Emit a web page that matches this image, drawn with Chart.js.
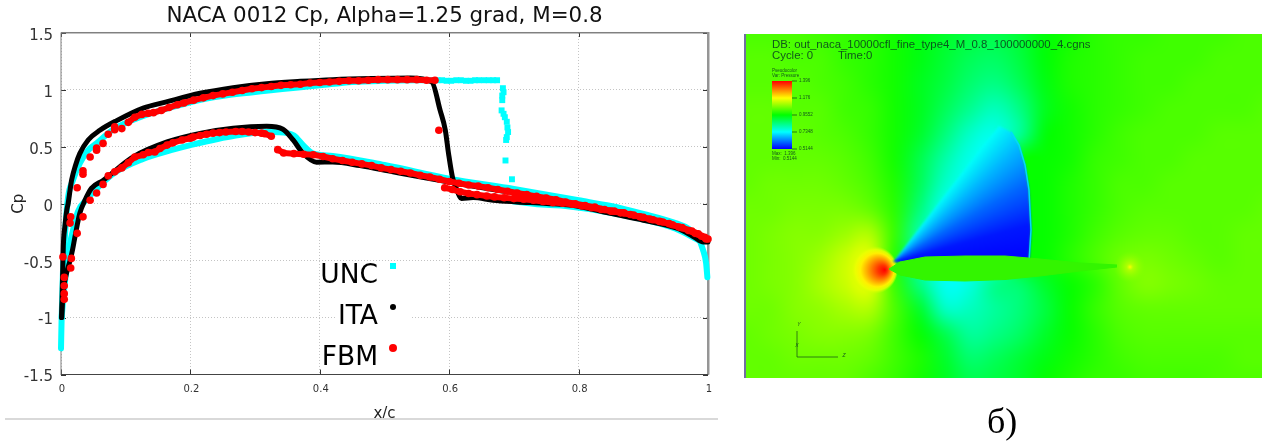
<!DOCTYPE html>
<html><head><meta charset="utf-8">
<script src="https://cdn.jsdelivr.net/npm/chart.js@4"></script>
<style>html,body{margin:0;padding:0;background:#fff;width:1264px;height:445px;overflow:hidden}
canvas{position:absolute;top:0}
#c1{left:0}#c2{left:744px}</style></head>
<body>
<canvas id="c1" width="725" height="445"></canvas>
<canvas id="c2" width="520" height="445"></canvas>
<script>
// ---------- left chart: pressure coefficient ----------
const titleText = "NACA 0012 Cp, Alpha=1.25 grad, M=0.8";
const xLabel = "x/c", yLabel = "Cp";
const seriesNames = ["UNC","ITA","FBM"];
const seriesColors = ["#00ffff","#000000","#ff0000"];

const uncUpperX = [0,0.001,0.002,0.003,0.005,0.007,0.011,0.018,0.029,0.042,0.055,0.08,0.122,0.173,0.225,0.297,0.4,0.45,0.5,0.575];
const uncUpperY = [-1.27,-1.0,-0.8,-0.6,-0.4,-0.2,0.06,0.2,0.355,0.47,0.53,0.65,0.76,0.85,0.925,0.98,1.04,1.07,1.08,1.085];
const uncLowerX = [0.001,0.004,0.009,0.014,0.02,0.026,0.04,0.06,0.085,0.125,0.17,0.2,0.27,0.32,0.35,0.36,0.375,0.39,0.42,0.5,0.6,0.7,0.8,0.85,0.9,0.95,0.97,0.985,0.992,0.997,0.999];
const uncLowerY = [-1.0,-0.8,-0.55,-0.35,-0.2,-0.07,0.04,0.16,0.28,0.39,0.47,0.515,0.6,0.63,0.62,0.6,0.51,0.44,0.42,0.34,0.22,0.13,0.03,-0.02,-0.09,-0.17,-0.22,-0.3,-0.4,-0.52,-0.645];
const uncAftLowerX = [0.7,0.75,0.78,0.85,0.95,0.985];
const uncAftLowerY = [0.02,-0.01,-0.02,-0.08,-0.22,-0.32];
const uncShockX = [0.582,0.589,0.596,0.603,0.611,0.618,0.626,0.633,0.64,0.646,0.654,0.661,0.668,0.674,0.683,0.684,0.682,0.682,0.681,0.684,0.686,0.689,0.69,0.691,0.689,0.688,0.687,0.697];
const uncShockY = [1.085,1.085,1.08,1.08,1.085,1.085,1.08,1.08,1.085,1.085,1.085,1.085,1.085,1.085,1.015,0.98,0.95,0.91,0.82,0.79,0.76,0.72,0.67,0.63,0.585,0.56,0.38,0.215];

const itaUpperX = [0.001,0.002,0.0036,0.006,0.0088,0.011,0.014,0.0165,0.022,0.029,0.042,0.06,0.086,0.127,0.163,0.215,0.266,0.318,0.37,0.42,0.48,0.54,0.573,0.586,0.594,0.599,0.605,0.611,0.619,0.637,0.668,0.705,0.751,0.797,0.849,0.9,0.952,0.977,0.993,1];
const itaUpperY = [-1.0,-0.75,-0.37,-0.2,-0.06,0,0.12,0.21,0.33,0.44,0.56,0.645,0.73,0.84,0.895,0.97,1.02,1.055,1.075,1.09,1.1,1.105,1.07,0.82,0.646,0.44,0.235,0.135,0.047,0.055,0.03,0.016,0.003,-0.02,-0.085,-0.145,-0.215,-0.287,-0.336,-0.335];
const itaLowerX = [0.001,0.003,0.009,0.014,0.018,0.0216,0.029,0.037,0.047,0.065,0.111,0.164,0.215,0.266,0.318,0.343,0.359,0.374,0.395,0.42,0.462,0.513,0.565,0.6,0.668,0.72,0.771,0.822,0.875,0.926,0.977,0.995];
const itaLowerY = [-1.0,-0.8,-0.6,-0.5,-0.4,-0.29,-0.085,0.03,0.135,0.205,0.41,0.543,0.618,0.663,0.68,0.655,0.558,0.443,0.365,0.367,0.335,0.28,0.225,0.19,0.125,0.08,0.02,-0.04,-0.095,-0.17,-0.25,-0.32];

const fbmNoseX = [0.003,0.005,0.005,0.005,0.005,0.015,0.014,0.025,0.034,0.034,0.045,0.055,0.055,0.065,0.073,0.083,0.083,0.094,0.016,0.015,0.025,0.034,0.045,0.055,0.065,0.073,0.584];
const fbmNoseY = [-0.467,-0.647,-0.72,-0.79,-0.84,-0.115,-0.17,0.14,0.29,0.26,0.41,0.47,0.49,0.53,0.61,0.675,0.65,0.66,-0.48,-0.565,-0.26,-0.115,0.03,0.095,0.17,0.245,0.646];
const fbmUpperX = [0.104,0.114,0.125,0.135,0.143,0.155,0.167,0.18,0.19,0.205,0.22,0.235,0.25,0.265,0.28,0.295,0.31,0.325,0.34,0.355,0.37,0.385,0.4,0.415,0.43,0.445,0.46,0.475,0.49,0.505,0.52,0.535,0.55,0.565,0.578];
const fbmUpperY = [0.715,0.76,0.785,0.795,0.8,0.82,0.845,0.87,0.885,0.91,0.93,0.95,0.965,0.98,0.995,1.01,1.02,1.03,1.04,1.045,1.05,1.06,1.065,1.07,1.075,1.08,1.08,1.085,1.09,1.09,1.09,1.09,1.09,1.085,1.085];
const fbmLowerX = [0.083,0.094,0.104,0.114,0.127,0.135,0.145,0.153,0.164,0.173,0.187,0.2,0.204,0.215,0.225,0.235,0.245,0.255,0.27,0.28,0.29,0.3,0.31,0.315,0.325];
const fbmLowerY = [0.28,0.315,0.36,0.41,0.43,0.45,0.455,0.485,0.515,0.535,0.56,0.575,0.585,0.6,0.61,0.62,0.625,0.63,0.635,0.635,0.63,0.625,0.62,0.615,0.593];
const fbmAftAX = [0.335,0.344,0.36,0.375,0.39,0.405,0.42,0.435,0.45,0.465,0.48,0.495,0.51,0.525,0.54,0.555,0.57,0.585,0.6,0.615,0.63,0.645,0.66,0.675,0.69,0.705,0.72,0.735,0.75,0.765,0.78,0.795,0.81,0.825,0.84,0.855,0.87,0.885,0.9,0.915,0.93,0.945,0.96,0.975,0.985,0.995,1];
const fbmAftAY = [0.475,0.446,0.44,0.435,0.43,0.415,0.395,0.38,0.365,0.35,0.335,0.315,0.3,0.285,0.27,0.25,0.235,0.215,0.195,0.18,0.165,0.155,0.14,0.125,0.11,0.095,0.08,0.065,0.05,0.035,0.015,0,-0.015,-0.03,-0.05,-0.065,-0.08,-0.1,-0.12,-0.14,-0.16,-0.185,-0.21,-0.24,-0.265,-0.295,-0.31];
const fbmAftBX = [0.593,0.605,0.617,0.63,0.643,0.658,0.67,0.685,0.7,0.715,0.73,0.745,0.76,0.775,0.79,0.805,0.82,0.835,0.85,0.865,0.88,0.895,0.91,0.925,0.94,0.955,0.97,0.98,0.99,0.997];
const fbmAftBY = [0.14,0.125,0.105,0.09,0.08,0.068,0.06,0.052,0.045,0.04,0.03,0.02,0.01,0.005,-0.005,-0.02,-0.035,-0.05,-0.065,-0.08,-0.095,-0.115,-0.135,-0.155,-0.175,-0.205,-0.235,-0.26,-0.285,-0.31];

const xyPairs = (xs, ys) => xs.map((x, i) => ({x, y: ys[i]}));
const lineSet = (label, xs, ys, color, w) => ({label, data: xyPairs(xs, ys), showLine: true, borderColor: color, borderWidth: w, pointRadius: 0, cubicInterpolationMode: 'monotone', clip: false, borderCapStyle: 'round', borderJoinStyle: 'round'});
const dotSet = (label, xs, ys, color, style, r) => ({label, data: xyPairs(xs, ys), showLine: false, backgroundColor: color, borderColor: color, borderWidth: 0, pointStyle: style, pointRadius: r, clip: false});
const bandSet = (label, xs, ys, color, r) => ({label, data: xyPairs(xs, ys), showLine: true, borderColor: color, borderWidth: 6, backgroundColor: color, pointBorderWidth: 0, pointStyle: 'circle', pointRadius: r, tension: 0, clip: false, borderCapStyle: 'round', borderJoinStyle: 'round'});

const font = "'DejaVu Sans'";
const frame = {
  id: 'frame',
  beforeDatasetsDraw(ch) {
    const {ctx, chartArea: a, scales: {x, y}} = ch;
    ctx.save();
    ctx.strokeStyle = '#333'; ctx.lineWidth = 1;
    ctx.beginPath();
    [0,0.2,0.4,0.6,0.8,1].forEach(v => { const p = Math.round(x.getPixelForValue(v)) + .5;
      ctx.moveTo(p, a.top); ctx.lineTo(p, a.top + 4); ctx.moveTo(p, a.bottom); ctx.lineTo(p, a.bottom - 5); });
    [-1.5,-1,-0.5,0,0.5,1,1.5].forEach(v => { const p = Math.round(y.getPixelForValue(v)) + .5;
      ctx.moveTo(a.left, p); ctx.lineTo(a.left + 5, p); ctx.moveTo(a.right - 5, p); ctx.lineTo(a.right, p); });
    ctx.stroke();
    ctx.fillStyle = '#fff'; ctx.fillRect(337, 300, 73, 30);
    ctx.fillStyle = '#808080';
    ctx.fillRect(a.left - .5, a.top - .5, 1, a.bottom - a.top + 1);
    ctx.fillRect(a.left, a.top - 1, a.right - a.left, 1.5);
    ctx.fillStyle = '#959595'; ctx.fillRect(a.right - 1, a.top - 1, 2.5, a.bottom - a.top + 1);
    ctx.fillStyle = '#444'; ctx.fillRect(a.left, a.bottom - .5, a.right - a.left, 1);
    ctx.restore();
  },
  afterDraw(ch) {
    const {ctx} = ch;
    ctx.save();
    ctx.fillStyle = '#d9d9d9'; ctx.fillRect(5, 418, 713, 2);
    const rows = [[276,266],[317,307],[358,348]];
    ctx.font = "26.5px " + font; ctx.textAlign = 'right'; ctx.textBaseline = 'middle'; ctx.fillStyle = '#000';
    seriesNames.forEach((n, i) => ctx.fillText(n, 378, rows[i][0]));
    ctx.fillStyle = seriesColors[0]; ctx.fillRect(390, rows[0][1] - 3, 6, 6);
    ctx.fillStyle = seriesColors[1]; ctx.beginPath(); ctx.arc(393, rows[1][1], 3, 0, 7); ctx.fill();
    ctx.fillStyle = seriesColors[2]; ctx.beginPath(); ctx.arc(393, rows[2][1], 4, 0, 7); ctx.fill();
    ctx.restore();
  }
};

new Chart(document.getElementById('c1'), {
  type: 'scatter',
  data: { datasets: [
    dotSet(seriesNames[2], fbmNoseX, fbmNoseY, seriesColors[2], 'circle', 3.8),
    bandSet(seriesNames[2], fbmUpperX, fbmUpperY, seriesColors[2], 3.8),
    bandSet(seriesNames[2], fbmLowerX, fbmLowerY, seriesColors[2], 3.8),
    bandSet(seriesNames[2], fbmAftAX, fbmAftAY, seriesColors[2], 3.8),
    bandSet(seriesNames[2], fbmAftBX, fbmAftBY, seriesColors[2], 3.8),
    lineSet(seriesNames[1], itaUpperX, itaUpperY, seriesColors[1], 5),
    lineSet(seriesNames[1], itaLowerX, itaLowerY, seriesColors[1], 5),
    lineSet(seriesNames[0], uncUpperX, uncUpperY, seriesColors[0], 6),
    lineSet(seriesNames[0], uncLowerX, uncLowerY, seriesColors[0], 6),
    lineSet(seriesNames[0], uncAftLowerX, uncAftLowerY, seriesColors[0], 6),
    dotSet(seriesNames[0], uncShockX, uncShockY, seriesColors[0], 'rect', 4.2)
  ]},
  options: {
    responsive: false, animation: false, events: [],
    layout: { padding: { left: 0, right: 17, top: 0, bottom: 22 } },
    plugins: {
      legend: { display: false }, tooltip: { enabled: false },
      title: { display: true, fullSize: false, text: titleText, color: '#111', font: { family: font, size: 21.4, weight: 'normal', lineHeight: 1.2 }, padding: { top: 4, bottom: 3.3 } }
    },
    scales: {
      x: { type: 'linear', min: 0, max: 1,
        afterFit(s) { s.height = 48.5; },
        grid: { color: '#c4c4c4', lineWidth: 1, drawTicks: false },
        border: { display: false, dash: [1, 2] },
        ticks: { stepSize: 0.2, maxRotation: 0, padding: 9, labelOffset: 1, color: '#333', font: { family: font, size: 10 }, callback: v => String(+v.toFixed(1)) },
        title: { display: true, text: xLabel, color: '#222', font: { family: font, size: 15 }, padding: 0 } },
      y: { type: 'linear', min: -1.5, max: 1.5,
        afterFit(s) { s.width = 61; },
        grid: { color: '#c4c4c4', lineWidth: 1, drawTicks: false },
        border: { display: false, dash: [1, 2] },
        ticks: { stepSize: 0.5, padding: 8, labelOffset: 3, color: '#333', font: { family: font, size: 15 }, callback: v => String(+v.toFixed(1)) },
        title: { display: true, text: yLabel, color: '#222', font: { family: font, size: 15 }, padding: { top: 10, bottom: 0 } } }
    }
  },
  plugins: [frame]
});

// ---------- right chart: pressure field ----------
const dbLine = "DB: out_naca_10000cfl_fine_type4_M_0.8_100000000_4.cgns";
const cycleLabel = "Cycle: 0", timeLabel = "Time:0";
const barHead = ["Pseudocolor", "Var: Pressure"];
const barTicks = ["1.396", "1.176", "0.9552", "0.7348", "0.5144"];
const barFoot = ["Max:  1.396", "Min:  0.5144"];
const panelCaption = "б)";

const fieldZ = [745,770,794,819,844,868,893,918,942,967,992,1016,1041,1066,1090,1115,1140,1164,1189,1213,1238,1262];
const fieldY = [34,59,83,108,132,157,181,206,231,255,280,304,329,353,378];
const pressureRows = [
 [102,102,102,101,100,99,97,94,92,90,89,91,95,97,99,100,100,101,101,101,102,102],
 [103,103,102,102,100,99,97,94,91,88,87,90,95,98,99,100,101,101,101,102,102,102],
 [103,103,103,102,101,99,97,93,90,86,84,88,94,98,99,100,101,101,102,102,102,102],
 [104,104,103,103,101,100,97,93,88,83,79,84,93,97,99,100,101,102,102,102,102,103],
 [104,104,104,103,102,100,97,92,85,78,75,82,95,97,99,101,102,102,102,103,103,103],
 [104,104,104,104,103,101,97,89,81,75,74,96,96,97,100,101,102,102,103,103,103,103],
 [104,105,105,105,104,102,98,88,78,74,74,96,96,98,100,102,102,103,103,103,103,103],
 [105,105,106,106,106,104,99,85,74,74,74,96,96,98,100,102,103,103,103,103,103,104],
 [105,106,107,107,109,111,100,80,74,74,74,96,96,98,101,103,104,104,103,103,104,104],
 [105,106,107,109,113,116,98,80,74,74,74,96,96,99,102,105,106,105,104,103,104,104],
 [105,106,107,110,113,116,100,84,74,76,84,86,92,96,99,104,107,106,105,104,104,104],
 [105,105,107,108,110,111,102,92,78,79,82,85,90,96,100,103,104,104,104,104,104,104],
 [104,105,106,107,107,106,101,96,89,82,84,87,92,96,99,102,103,103,103,103,103,103],
 [104,104,105,105,105,104,101,98,92,86,88,91,94,97,99,101,102,102,102,102,103,103],
 [104,104,104,104,104,102,100,97,93,89,90,92,96,98,100,100,101,101,101,102,102,102]
];
const fanAngles = [90,60,52,42,30,15,0];
const fanPressures = [96,78,74,67,60,53,51];
const pocketZ = [893,1029,1031,1029,1025,1019,1011,999,985];
const pocketY = [262,262,230,190,165,145,132,126,143];
const airfoilZ = [889,900,925,965,1005,1040,1080,1117];
const airfoilUpper = [269,262,257,256,256,259,263,265];
const airfoilLower = [269,275,280,281,279.5,276,271,267];
const colorStops = [[51,0,0,255],[73.5,0,255,255],[95.5,0,255,0],[117.6,255,255,0],[139.6,255,0,0]];

function pressureColor(p, alpha) {
  let i = 0;
  while (i < colorStops.length - 2 && p > colorStops[i + 1][0]) i++;
  const a = colorStops[i], b = colorStops[i + 1];
  const t = Math.min(1, Math.max(0, (p - a[0]) / (b[0] - a[0])));
  const c = [1, 2, 3].map(k => Math.round(a[k] + (b[k] - a[k]) * t));
  return `rgba(${c[0]},${c[1]},${c[2]},${alpha === undefined ? 1 : alpha})`;
}

const fieldPainter = {
  id: 'fieldPainter',
  beforeDatasetsDraw(ch) {
    const {ctx, chartArea: a, scales: {x, y}} = ch;
    const off = document.createElement('canvas');
    off.width = fieldZ.length; off.height = fieldY.length;
    const oc = off.getContext('2d');
    pressureRows.forEach((row, j) => row.forEach((p, i) => { oc.fillStyle = pressureColor(p); oc.fillRect(i, j, 1, 1); }));
    const cw = x.getPixelForValue(fieldZ[1]) - x.getPixelForValue(fieldZ[0]);
    const chh = y.getPixelForValue(fieldY[1]) - y.getPixelForValue(fieldY[0]);
    ctx.save();
    ctx.beginPath(); ctx.rect(a.left, a.top, a.right - a.left, a.bottom - a.top); ctx.clip();
    ctx.imageSmoothingEnabled = true;
    ctx.imageSmoothingQuality = 'high';
    ctx.drawImage(off, a.left - cw / 2, a.top - chh / 2, cw * fieldZ.length, chh * fieldY.length);

    // wake spot
    const wx = x.getPixelForValue(1130), wy = y.getPixelForValue(267);
    let g = ctx.createRadialGradient(wx, wy, 0, wx, wy, 16);
    g.addColorStop(0, pressureColor(117, 1)); g.addColorStop(.2, pressureColor(112, .8)); g.addColorStop(1, pressureColor(107, 0));
    ctx.fillStyle = g; ctx.fillRect(wx - 16, wy - 16, 32, 32);

    // stagnation blob
    const bx = x.getPixelForValue(874), by = y.getPixelForValue(270);
    g = ctx.createRadialGradient(x.getPixelForValue(885), by, 0, bx, by, 24);
    g.addColorStop(0, pressureColor(139.6)); g.addColorStop(.2, pressureColor(135)); g.addColorStop(.45, pressureColor(127));
    g.addColorStop(.7, pressureColor(119)); g.addColorStop(.85, pressureColor(116, .8)); g.addColorStop(1, pressureColor(113, 0));
    ctx.fillStyle = g; ctx.beginPath(); ctx.arc(bx, by, 24, 0, 7); ctx.fill();

    // supersonic pocket, fanning out from the leading edge
    const fan = ctx.createConicGradient(-Math.PI / 2, x.getPixelForValue(892), y.getPixelForValue(262));
    fanAngles.forEach((d, i) => fan.addColorStop((90 - d) / 360, pressureColor(fanPressures[i])));
    fan.addColorStop(.26, pressureColor(fanPressures[fanPressures.length - 1]));
    fan.addColorStop(1, pressureColor(fanPressures[0]));
    ctx.save();
    ctx.filter = 'blur(1.2px)';
    ctx.fillStyle = fan;
    ctx.beginPath();
    pocketZ.forEach((z, i) => { const px = x.getPixelForValue(z), py = y.getPixelForValue(pocketY[i]); i ? ctx.lineTo(px, py) : ctx.moveTo(px, py); });
    ctx.closePath(); ctx.fill();
    ctx.restore();
    // shock edge
    ctx.strokeStyle = '#00d8ff'; ctx.lineWidth = 1.5;
    ctx.beginPath();
    pocketZ.forEach((z, i) => { if (i === 0 || i > 6) return; const px = x.getPixelForValue(z), py = y.getPixelForValue(pocketY[i]); i === 1 ? ctx.moveTo(px, py) : ctx.lineTo(px, py); });
    ctx.stroke();
    ctx.restore();
  },
  afterDraw(ch) {
    const {ctx, chartArea: a, scales: {x, y}} = ch;
    const X = v => x.getPixelForValue(v), Y = v => y.getPixelForValue(v);
    ctx.save();
    ctx.fillStyle = '#6f6fa0'; ctx.fillRect(a.left - 1, a.top, 2, a.bottom - a.top);
    ctx.textBaseline = 'middle'; ctx.textAlign = 'left';
    ctx.fillStyle = 'rgba(10,70,30,.9)';
    ctx.font = "11.4px 'Liberation Sans'";
    ctx.fillText(dbLine, X(772), Y(45));
    ctx.fillText(cycleLabel, X(772), Y(56));
    ctx.fillText(timeLabel, X(838), Y(56));
    ctx.font = "4.5px 'Liberation Sans'";
    barHead.forEach((t, i) => ctx.fillText(t, X(772), Y(71 + i * 5)));
    // colour bar
    const bar = ctx.createLinearGradient(0, Y(149), 0, Y(81));
    colorStops.forEach((c, i) => bar.addColorStop(i / (colorStops.length - 1), pressureColor(c[0])));
    ctx.fillStyle = bar; ctx.fillRect(X(772), Y(81), 20, Y(149) - Y(81));
    ctx.fillStyle = 'rgba(10,70,30,.9)';
    barTicks.forEach((t, i) => {
      const py = Y(81 + i * 17);
      ctx.fillRect(X(792), py - .4, 5, .8);
      ctx.fillText(t, X(799), py);
    });
    barFoot.forEach((t, i) => ctx.fillText(t, X(772), Y(154 + i * 5)));
    // axes triad
    ctx.strokeStyle = 'rgba(20,80,20,.9)'; ctx.lineWidth = .8;
    ctx.beginPath(); ctx.moveTo(X(797), Y(331)); ctx.lineTo(X(797), Y(357)); ctx.lineTo(X(838), Y(357)); ctx.stroke();
    ctx.font = "italic 5px 'Liberation Sans'"; ctx.textAlign = 'center';
    ctx.fillText('Y', X(799), Y(325)); ctx.fillText('X', X(797), Y(346)); ctx.fillText('Z', X(844), Y(356));
    // caption
    ctx.fillStyle = '#000'; ctx.textAlign = 'left'; ctx.textBaseline = 'alphabetic';
    ctx.font = "36px 'Liberation Serif'";
    ctx.fillText(panelCaption, X(987), 433);
    ctx.restore();
  }
};

new Chart(document.getElementById('c2'), {
  type: 'scatter',
  data: { datasets: [
    { label: 'airfoil', data: xyPairs(airfoilZ, airfoilUpper), showLine: true, pointRadius: 0, borderColor: '#33f500', borderWidth: 1, backgroundColor: '#33f500', fill: '+1', tension: 0 },
    { label: 'airfoil', data: xyPairs(airfoilZ, airfoilLower), showLine: true, pointRadius: 0, borderColor: '#33f500', borderWidth: 1, backgroundColor: '#33f500', fill: false, tension: 0 }
  ]},
  options: {
    responsive: false, animation: false, events: [],
    layout: { padding: { left: 1, right: 2, top: 34, bottom: 67 } },
    plugins: { legend: { display: false }, tooltip: { enabled: false }, title: { display: false } },
    scales: {
      x: { type: 'linear', min: 745, max: 1262, display: false },
      y: { type: 'linear', min: 34, max: 378, reverse: true, display: false }
    }
  },
  plugins: [fieldPainter]
});
</script>
</body></html>
